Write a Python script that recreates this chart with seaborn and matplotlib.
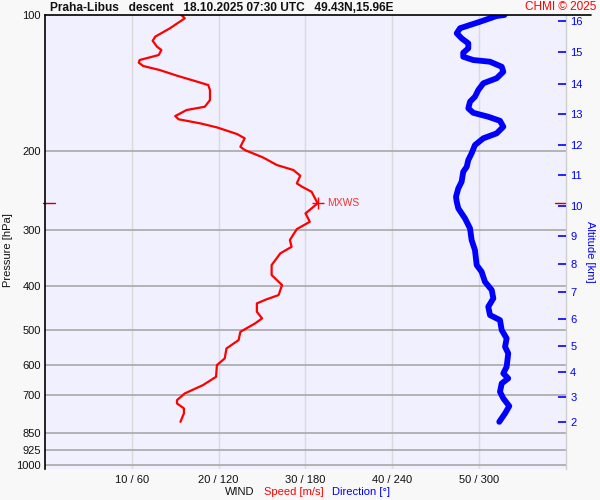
import matplotlib
matplotlib.use("Agg")
import matplotlib.pyplot as plt
from matplotlib.lines import Line2D
from matplotlib.ticker import NullLocator
import pandas as pd
import seaborn as sns

# ---- data ----
speed_p = [100, 101.7, 107, 111.7, 114.1, 117.6, 119.6, 122.7, 125.9, 127.6, 129.8, 132.5,
           136.4, 140.6, 143.1, 146.8, 154.5, 159.9, 162.6, 167.7, 170.5, 174.1, 177.7,
           183.8, 187.9, 196.2, 199.5, 207.2, 215.4, 221, 227.5, 236.6, 240.7, 247, 262,
           268.9, 275.9, 288, 299, 316.2, 327.3, 338.5, 359.4, 378.2, 398.1, 419, 428.3,
           437.2, 456.4, 472.1, 484.3, 505.6, 527.5, 550.5, 579.3, 599.5, 636.4, 664,
           692.9, 717.1, 729.3, 748.2, 767.5, 801.3]
speed = [15.7, 16.1, 14.4, 12.7, 12.4, 12.9, 13.4, 13.1, 10.9, 10.8, 11.3, 13.2, 15.2,
         17.5, 18.8, 19.0, 19.0, 18.4, 16.3, 15.0, 15.4, 17.9, 19.8, 22.1, 23.0, 22.5,
         23.0, 25.1, 26.7, 28.6, 29.4, 29.0, 29.6, 30.7, 31.4, 30.7, 30.0, 30.5, 29.0,
         28.2, 28.4, 27.1, 26.1, 26.1, 27.3, 26.9, 25.5, 24.4, 24.4, 25.0, 24.2, 22.5,
         22.3, 20.9, 20.7, 19.8, 19.7, 18.2, 16.1, 15.2, 15.2, 16.0, 16.0, 15.6]

dir_p = [100, 100.5, 103.5, 107, 109.8, 112.7, 115.6, 118.6, 121.3, 123.8, 125.9, 127,
         130.3, 133.7, 138.2, 141.8, 146.8, 151.9, 155.8, 161.2, 164.9, 168.3, 171.8,
         177.1, 183.2, 187.9, 194.5, 202.9, 210, 217.4, 223, 234.6, 242.7, 253.4, 260,
         268.9, 283, 297.9, 316.2, 332.9, 359.4, 371.9, 391.4, 408.4, 426.2, 444.8,
         464.2, 476.2, 501.2, 523, 545.9, 564.6, 604.6, 625.5, 641.7, 658.3, 687.3,
         710.9, 739.4, 767.5, 801.3]
direction = [317.5, 312.1, 300.6, 286.8, 284.5, 287.9, 292.5, 292.5, 289.0, 289.0,
             295.9, 307.5, 315.6, 316.7, 312.1, 302.9, 299.4, 297.1, 293.7, 292.5,
             295.9, 306.3, 314.4, 316.7, 312.1, 302.9, 297.1, 294.8, 292.5, 291.4,
             289.0, 287.9, 285.6, 284.0, 284.5, 285.6, 290.2, 293.7, 294.8, 297.1,
             298.3, 301.7, 304.0, 308.7, 309.8, 306.3, 307.5, 314.4, 315.6, 319.0,
             317.9, 320.1, 319.0, 316.7, 320.1, 315.6, 314.4, 316.7, 320.8, 317.9, 313.9]

p_ticks = [100, 200, 300, 400, 500, 600, 700, 850, 925, 1000]
alt_km = [2, 3, 4, 5, 6, 7, 8, 9, 10, 11, 12, 13, 14, 15, 16]
alt_p = [802, 706, 621, 543, 474, 412, 357, 310, 265, 227, 194.5, 166, 142, 121, 103.3]
speed_ticks = [10, 20, 30, 40, 50]
dir_ticks = [60, 120, 180, 240, 300]
mxws_p = 262
mxws_speed = 31.4

title = "Praha-Libus   descent   18.10.2025 07:30 UTC   49.43N,15.96E"

# ---- style ----
sns.set_theme(style="white")
plt.rcParams["font.family"] = ["Liberation Sans", "DejaVu Sans"]

RED = "#ff0000"
BLUE = "#0000ff"

fig = plt.figure(figsize=(6, 5), dpi=100, facecolor="#f8f8f8")
ax = fig.add_axes([0.075, 0.062, 0.8683, 0.908])
ax.set_facecolor("#f0f0ff")
ax.set_yscale("log")
ax.set_ylim(1020, 100)
ax.set_xlim(0, 60)

for p in p_ticks[1:]:
    ax.axhline(p, color="#a8a8a8", lw=1.2, zorder=1)
for s in speed_ticks:
    ax.axvline(s, color="#dadada", lw=1.0, zorder=0.5)

df_s = pd.DataFrame({"speed": speed, "pressure": speed_p})
sns.lineplot(data=df_s, x="speed", y="pressure", sort=False, estimator=None,
             color=RED, lw=1.6, ax=ax, zorder=3, solid_joinstyle="round")

# MXWS marks
ax.plot([mxws_speed], [mxws_p], marker="+", color=RED, markersize=8, mew=1.0, zorder=4)
ax.text(mxws_speed + 1.1, mxws_p, "MXWS", color="#ff3030", fontsize=7.5,
        va="center", ha="left", zorder=4)
yt = ax.get_yaxis_transform()
ax.plot([-0.004, 0.02], [mxws_p, mxws_p], color="#cc0000", lw=1, transform=yt, clip_on=False)
ax.plot([0.979, 1.0], [mxws_p, mxws_p], color="#cc0000", lw=1, transform=yt, clip_on=False)

ax.set_yticks(p_ticks)
ax.set_yticklabels([str(p) for p in p_ticks])
ax.yaxis.set_minor_locator(NullLocator())
ax.set_xticks(speed_ticks)
ax.set_xticklabels([f"{s} / {d}" for s, d in zip(speed_ticks, dir_ticks)])
ax.tick_params(axis="both", length=0, labelsize=8, colors="#111111")
ax.tick_params(axis="y", pad=3)
ax.tick_params(axis="x", pad=4)
ax.set_xlabel("")
ax.set_ylabel("")
for side in ["top", "bottom"]:
    ax.spines[side].set_visible(False)
ax.spines["left"].set_color("black")
ax.spines["left"].set_linewidth(1.2)
ax.spines["right"].set_color("#cfcfcf")
ax.spines["right"].set_linewidth(1.0)

# direction on a twin x axis (0-360)
ax3 = ax.twiny()
ax3.set_xlim(0, 360)
df_d = pd.DataFrame({"direction": direction, "pressure": dir_p})
sns.lineplot(data=df_d, x="direction", y="pressure", sort=False, estimator=None,
             color=BLUE, lw=4.2, ax=ax3, zorder=3, solid_joinstyle="round",
             solid_capstyle="round")
ax3.set_xlim(0, 360)
ax3.set_xticks([])
ax3.set_xlabel("")
ax3.set_ylabel("")
for sp in ax3.spines.values():
    sp.set_visible(False)

# altitude axis
ax2 = ax.twinx()
ax2.set_yscale("log")
ax2.set_ylim(1020, 100)
ax2.set_yticks(alt_p)
ax2.set_yticklabels([str(a) for a in alt_km])
ax2.yaxis.set_minor_locator(NullLocator())
ax2.tick_params(axis="y", direction="in", length=6, width=1.2, color=BLUE,
                labelcolor=BLUE, labelsize=8, pad=3)
for sp in ax2.spines.values():
    sp.set_visible(False)

# top line and texts
fig.add_artist(Line2D([45 / 600, 591 / 600], [1 - 15 / 500, 1 - 15 / 500],
                      color="black", lw=1.2))
fig.text(50 / 600, 1 - 8 / 500, title, fontsize=8.6, fontweight="bold", va="center",
         ha="left", color="#111111")
fig.text(596 / 600, 1 - 7 / 500, "CHMI © 2025", fontsize=8.5, color=RED,
         va="center", ha="right")
fig.text(8 / 600, 0.5, "Pressure [hPa]", rotation=90, fontsize=8, va="center",
         ha="center", color="#111111")
fig.text(590 / 600, 1 - 252 / 500, "Altitude [km]", rotation=-90, fontsize=8,
         va="center", ha="center", color=BLUE)
fig.text(225 / 600, 1 - 492 / 500, "WIND", fontsize=8, va="center", ha="left",
         color="#111111")
fig.text(264 / 600, 1 - 492 / 500, "Speed [m/s]", fontsize=8, va="center", ha="left",
         color=RED)
fig.text(332 / 600, 1 - 492 / 500, "Direction [°]", fontsize=8, va="center", ha="left",
         color=BLUE)

fig.savefig("out.png", dpi=100, facecolor=fig.get_facecolor())
